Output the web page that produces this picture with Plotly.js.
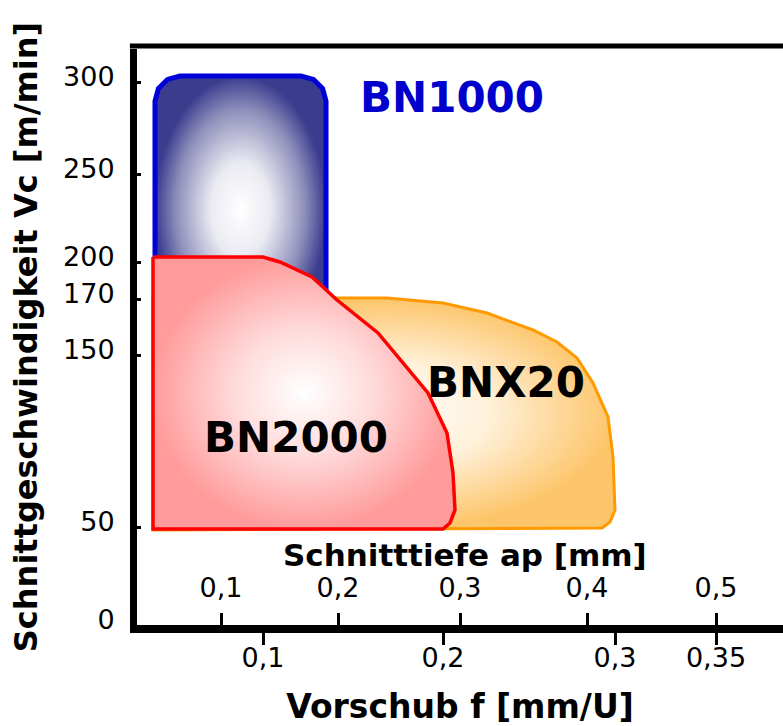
<!DOCTYPE html>
<html>
<head>
<meta charset="utf-8">
<script src="https://cdn.plot.ly/plotly-3.0.1.min.js"></script>
<style>html,body{margin:0;padding:0;background:#fff;}#chart{width:783px;height:726px;}</style>
</head>
<body>
<div id="chart"></div>
<script>
// Schematic chart: positions are on the drawing's own (non-linear) scale
var yTickPos    = [0, 98, 270, 326, 363, 451, 543];
var yTickLabels = ['0', '50', '150', '170', '200', '250', '300'];

var feedTickPos    = [126, 306, 478, 579];          // Vorschub f [mm/U]
var feedTickLabels = ['0,1', '0,2', '0,3', '0,35'];

var depthTickPos    = [84, 201, 323, 450, 579];     // Schnitttiefe ap [mm]
var depthTickLabels = ['0,1', '0,2', '0,3', '0,4', '0,5'];

// region outlines (schematic positions)
var bn1000X = [18, 18, 21.4, 30.5, 43, 164, 176.5, 185.6, 189, 189, 18];
var bn1000Y = [282, 524, 536.5, 545.6, 549, 549, 545.6, 536.5, 524, 282, 282];

var bnx20X = [16, 250, 306, 350, 396, 420, 440, 456, 471, 476, 478, 473, 465, 16, 16];
var bnx20Y = [327, 327, 322, 312, 295, 283, 267, 242, 208, 168, 115, 103, 97, 95, 327];

var bn2000X = [16, 126, 143, 175, 200, 241, 291, 310, 316, 318, 313, 306, 16, 16];
var bn2000Y = [368, 368, 363, 348, 325, 292, 232, 192, 152, 115, 102, 96, 96, 368];

var regionNames = ['BN1000', 'BN2000', 'BNX20'];
var labelX = [315, 159, 369];
var labelY = [528, 188, 243];

var FONT = 'DejaVu Sans, Verdana, sans-serif';

var traces = [
  {x: bnx20X, y: bnx20Y, mode: 'lines', fill: 'toself', name: 'BNX20',
   line: {color: '#ff9900', width: 3},
   fillgradient: {type: 'radial', colorscale: [[0, '#ffffff'], [0.45, '#fff1da'], [1, '#fdc56a']]},
   hoverinfo: 'skip'},
  {x: bn1000X, y: bn1000Y, mode: 'lines', fill: 'toself', name: 'BN1000',
   line: {color: '#0000d8', width: 5},
   fillgradient: {type: 'radial', colorscale: [[0, '#ffffff'], [0.35, '#eaeaf2'], [0.75, '#8e8ebb'], [1, '#3a3c8e']]},
   hoverinfo: 'skip'},
  {x: bn2000X, y: bn2000Y, mode: 'lines', fill: 'toself', name: 'BN2000',
   line: {color: '#ff0000', width: 3.5},
   fillgradient: {type: 'radial', colorscale: [[0, '#ffffff'], [0.45, '#ffdcdc'], [1, '#ff9b9b']]},
   hoverinfo: 'skip'},
  {x: [depthTickPos[0]], y: [0], xaxis: 'x2', mode: 'markers', marker: {opacity: 0}, hoverinfo: 'skip', showlegend: false}
];

var annotations = [
  {x: labelX[0], y: labelY[0], xref: 'x', yref: 'y', text: regionNames[0], showarrow: false,
   font: {family: FONT, size: 42, color: '#0000cc', weight: 'bold'}},
  {x: labelX[1], y: labelY[1], xref: 'x', yref: 'y', text: regionNames[1], showarrow: false,
   font: {family: FONT, size: 42, color: '#000000', weight: 'bold'}},
  {x: labelX[2], y: labelY[2], xref: 'x', yref: 'y', text: regionNames[2], showarrow: false,
   font: {family: FONT, size: 42, color: '#000000', weight: 'bold'}},
  {x: 328, y: 70, xref: 'x', yref: 'y', text: 'Schnitttiefe ap [mm]', showarrow: false,
   font: {family: FONT, size: 31, color: '#000000', weight: 'bold'}}
];

var layout = {
  width: 783, height: 726,
  margin: {l: 137, r: 0, t: 49, b: 101},
  paper_bgcolor: '#ffffff', plot_bgcolor: '#ffffff',
  showlegend: false,
  font: {family: FONT, color: '#000000'},
  xaxis: {
    range: [0, 646], showgrid: false, zeroline: false,
    showline: true, linewidth: 8, linecolor: '#000',
    tickmode: 'array', tickvals: feedTickPos, ticktext: feedTickLabels,
    ticks: 'outside', ticklen: 12, tickwidth: 3, tickcolor: '#000',
    ticklabelstandoff: -10,
    tickfont: {family: FONT, size: 27, color: '#000'},
    title: {text: 'Vorschub f [mm/U]', font: {family: FONT, size: 33, color: '#000', weight: 'bold'}, standoff: 30},
    fixedrange: true
  },
  xaxis2: {
    range: [0, 646], overlaying: 'x', anchor: 'free', position: 0, side: 'top',
    showgrid: false, zeroline: false, showline: false,
    tickmode: 'array', tickvals: depthTickPos, ticktext: depthTickLabels,
    ticks: 'outside', ticklen: 12, tickwidth: 3, tickcolor: '#000',
    ticklabelstandoff: 5,
    tickfont: {family: FONT, size: 27, color: '#000'},
    fixedrange: true
  },
  yaxis: {
    range: [0, 576], showgrid: false, zeroline: false,
    showline: true, linewidth: 7, linecolor: '#000',
    tickmode: 'array', tickvals: yTickPos, ticktext: yTickLabels,
    ticks: 'inside', ticklen: 4, tickwidth: 3, tickcolor: '#000',
    ticklabelshift: -5, ticklabelstandoff: 10,
    tickfont: {family: FONT, size: 27, color: '#000'},
    title: {text: 'Schnittgeschwindigkeit Vc [m/min]', font: {family: FONT, size: 32, color: '#000', weight: 'bold'}, standoff: 18},
    fixedrange: true
  },
  shapes: [
    {type: 'line', xref: 'paper', yref: 'paper', x0: -0.011, x1: 1.02, y0: 1.005, y1: 1.005,
     line: {color: '#000', width: 5}, layer: 'above'}
  ],
  annotations: annotations
};

Plotly.newPlot('chart', traces, layout, {displayModeBar: false, staticPlot: true});
</script>
</body>
</html>
